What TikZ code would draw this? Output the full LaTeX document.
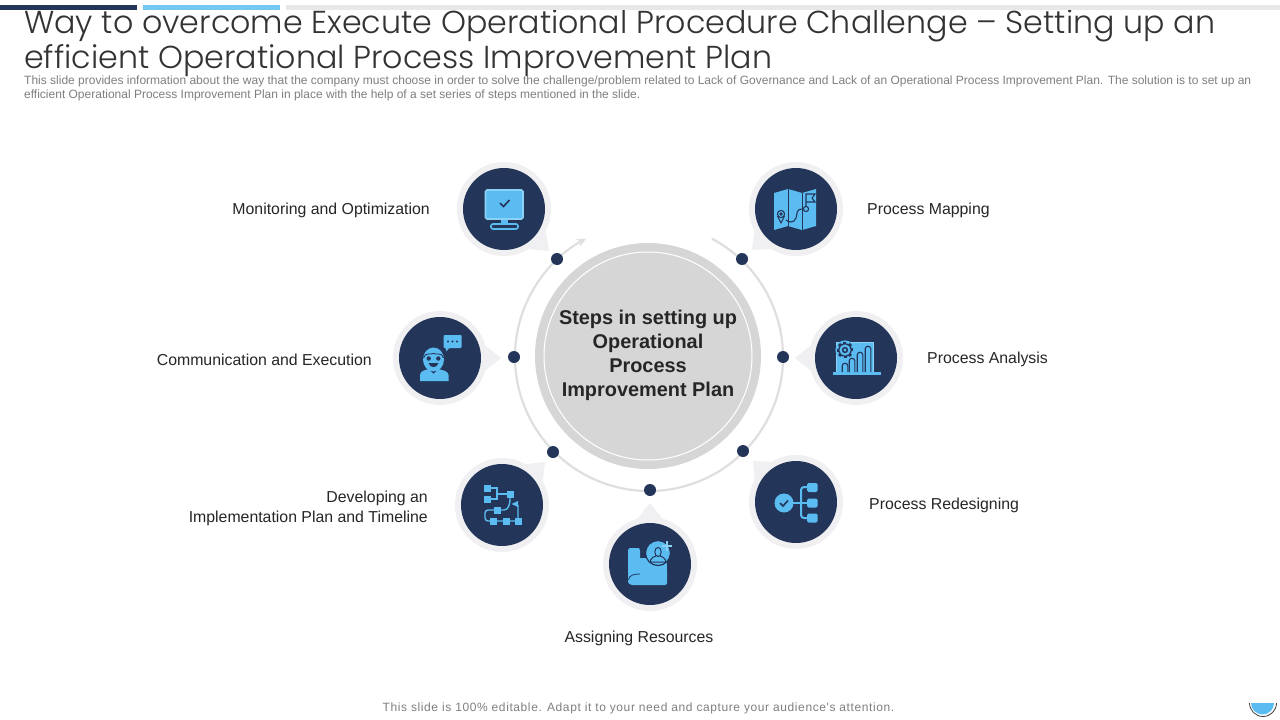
\documentclass[tikz,border=0pt]{standalone}
\usepackage{fontspec}
\setmainfont{Liberation Sans}
\newfontfamily\titlefont{Poppins Light}
\newfontfamily\footfont[LetterSpace=5]{Liberation Sans}
\usetikzlibrary{calc,arrows.meta}
\definecolor{navy}{HTML}{233659}
\definecolor{sky}{HTML}{5BBCF2}
\definecolor{halo}{HTML}{F0F0F2}
\definecolor{ringgray}{HTML}{DFDFDF}
\definecolor{hubgray}{HTML}{D6D6D6}
\definecolor{txt}{HTML}{262626}
\definecolor{subt}{HTML}{7F7F7F}
\definecolor{ttl}{HTML}{333333}
\tikzset{
  halonode/.style={circle,fill=halo,minimum size=94pt,inner sep=0pt},
  disc/.style={circle,fill=navy,minimum size=82pt,inner sep=0pt},
  dotnode/.style={circle,fill=navy,minimum size=12pt,inner sep=0pt},
  lab/.style={font=\fontsize{15.85}{19.5}\selectfont,text=txt,inner sep=0pt},
  ttlline/.style={font=\titlefont\fontsize{31.7}{35}\selectfont,text=ttl,anchor=base west,inner sep=0pt},
  subline/.style={font=\fontsize{12}{12}\selectfont,text=subt,anchor=base west,inner sep=0pt},
  icl/.style={draw=sky,line width=1.4pt,fill=none},
  icd/.style={draw=navy,line width=1.1pt,fill=none},
}
% name, x, y, tip x, tip y
\newcommand{\bubble}[5]{%
  \coordinate (#1tip) at (#4,-#5);
  \node[halonode] (#1halo) at (#2,-#3) {};
  \fill[halo] ($(#1halo)!46pt!17:(#1tip)$) -- (#1tip) -- ($(#1halo)!46pt!-17:(#1tip)$) -- cycle;
  \node[disc] (#1) at (#2,-#3) {};
}
\begin{document}
\begin{tikzpicture}[x=1pt,y=1pt]
\useasboundingbox (0,-720) rectangle (1280,0);
\fill[white] (0,-720) rectangle (1280,0);

% title
\node[ttlline] (t1) at (24,-33) {Way to overcome Execute Operational Procedure Challenge – Setting up an};
\node[ttlline] (t2) at (24,-68) {efficient Operational Process Improvement Plan};
\node[subline] (s1) at (24,-84) {This slide provides information about the way that the company must choose in order to solve the challenge/problem related to Lack of Governance and Lack of an Operational Process Improvement Plan. The solution is to set up an};
\node[subline] (s2) at (24,-98) {efficient Operational Process Improvement Plan in place with the help of a set series of steps mentioned in the slide.};
% top bars
\fill[navy] (0,-5) rectangle (137,-10);
\fill[sky!85!white] (143,-5) rectangle (280,-10);
\fill[black!9] (286,-5) rectangle (1280,-10);

% ring
\draw[ringgray,line width=2.2pt,-{Stealth[length=9pt,width=8pt]}] (649,-357) ++(62:134) arc (62:-242:134);

% hub
\node[circle,fill=hubgray,minimum size=226pt,inner sep=0pt] (hub) at (648,-356) {};
\node[circle,draw=white,line width=1pt,fill=hubgray,minimum size=208pt,inner sep=0pt] (hubin) at (648,-356) {};
\node[font=\bfseries\fontsize{19.9}{24}\selectfont,text=txt,align=center,inner sep=0pt] (hubt) at (648,-355.5) {Steps in setting up\\Operational\\Process\\Improvement Plan};

% dots
\node[dotnode] (d1) at (742,-259) {};
\node[dotnode] (d2) at (783,-357) {};
\node[dotnode] (d3) at (743,-451) {};
\node[dotnode] (d4) at (650,-490) {};
\node[dotnode] (d5) at (553,-452) {};
\node[dotnode] (d6) at (514,-357) {};
\node[dotnode] (d7) at (557,-259) {};

% bubbles
\bubble{mon}{504}{209}{549}{251}
\bubble{map}{796}{209}{752}{250}
\bubble{com}{440}{358}{501}{358}
\bubble{ana}{856}{358}{795}{358}
\bubble{dev}{502}{505}{545}{462}
\bubble{red}{796}{502}{753}{461}
\bubble{ass}{650}{564}{650}{503}

% monitor icon
\filldraw[fill=sky,draw=sky!70!white,line width=1.6pt,rounded corners=1.5pt] (485.5,-190) rectangle (523,-219);
\fill[sky] (501,-220) rectangle (508,-224);
\draw[sky,line width=1.6pt,rounded corners=2pt] (491,-224) rectangle (518,-229);
\draw[navy,line width=1.6pt] (500,-203) -- (503.5,-206.5) -- (509.5,-200);

% map icon
\fill[sky] (774,-193) -- (788,-189) -- (802,-193) -- (816,-189) -- (816,-226) -- (802,-230) -- (788,-226) -- (774,-230) -- cycle;
\draw[icd,line width=.8pt] (788,-189) -- (788,-226) (802,-193) -- (802,-230);
\draw[icd] (806,-206.4) -- (806,-194) -- (815,-194) -- (812,-198) -- (815,-202) -- (806,-202);
\draw[icd] (806,-209) circle (2.6);
\draw[icd] (803.4,-209) .. controls (795,-209) and (798,-213) .. (796,-218) .. controls (794,-224) and (788,-222) .. (786,-220);
\draw[icd] (781,-214) circle (3.6);
\draw[icd] (781,-214) circle (1.2);
\draw[icd] (777.5,-216) -- (781,-223) -- (784.5,-216);

% communication icon
\fill[sky] (420,-381) -- (420,-375) .. controls (420,-371) and (425,-370) .. (429,-369) -- (433.5,-373) -- (438,-369) .. controls (442,-370) and (448.5,-371) .. (448.5,-375) -- (448.5,-381) -- cycle;
\fill[navy] (433.5,-369) -- (430,-367.5) -- (429.5,-370) -- (433.5,-373.5) -- (437.5,-370) -- (437,-367.5) -- cycle;
\fill[sky] (433.5,-359.5) circle (10.5 and 12);
\draw[navy,line width=.9pt] (423.5,-358) .. controls (425,-352) and (430,-355) .. (433.5,-353.5) .. controls (437,-355) and (442,-352) .. (443.5,-358);
\fill[navy] (428.7,-358.5) circle (2.2);
\fill[navy] (438.3,-358.5) circle (2.2);
\fill[navy] (428.5,-363) .. controls (430,-368.5) and (437,-368.5) .. (438.5,-363) -- cycle;
\fill[sky,rounded corners=1pt] (443.5,-335) -- (461.5,-335) -- (461.5,-348) -- (449,-348) -- (446,-352) -- (446,-348) -- (443.5,-348) -- cycle;
\fill[navy] (448,-341.5) circle (1.1);
\fill[navy] (452.5,-341.5) circle (1.1);
\fill[navy] (457,-341.5) circle (1.1);

% analysis icon
\fill[sky] (836,-342) rectangle (873,-372);
\draw[sky!70!white,line width=1pt] (836,-342) rectangle (873,-372);
\fill[sky] (833,-372) rectangle (881,-374.5);
\foreach \bx/\bt in {845/-366,852/-361,860/-355,868/-349}{
  \draw[navy,line width=1.1pt,fill=sky] (\bx-2.8,-372) -- (\bx-2.8,\bt) arc (180:0:2.8) -- (\bx+2.8,-372);
}
\fill[sky] (845,-350) circle (9.6);
\foreach \a in {0,45,...,315}{\fill[navy] (845,-350) ++(\a-14:6) -- ++(\a:2.5) -- ++(\a+90:3) -- ++(\a+180:2.5) -- cycle;}
\fill[navy] (845,-350) circle (6.8);
\fill[sky] (845,-350) circle (5.6);
\fill[navy] (845,-350) circle (3.2);
\fill[sky] (845,-350) circle (1.6);

% developing icon
\draw[icl] (487,-488) -- (497,-488) -- (497,-494) -- (510,-494) (487,-499) -- (497,-499) -- (497,-494);
\draw[icl,rounded corners=3pt] (510,-494) -- (510,-503) -- (507,-510) -- (485,-510) -- (485,-521) -- (493,-521) (493,-521) -- (518,-521) -- (518,-505);
\fill[sky] (484,-485) rectangle (491,-492);
\fill[sky] (484,-496) rectangle (491,-503);
\fill[sky] (506.5,-490.5) rectangle (513.5,-497.5);
\fill[sky] (493.5,-506.5) rectangle (500.5,-513.5);
\fill[sky] (489.5,-517.5) rectangle (496.5,-524.5);
\fill[sky] (502.5,-517.5) rectangle (509.5,-524.5);
\fill[sky] (514.5,-517.5) rectangle (521.5,-524.5);
\fill[sky] (518,-501) -- (518,-507) -- (511.5,-504) -- cycle;

% redesign icon
\fill[sky] (784,-503) circle (9.5);
\draw[navy,line width=1.6pt] (780,-503) -- (783,-506) -- (788,-500.5);
\draw[sky,line width=2pt] (793,-503) -- (808,-503);
\draw[sky,line width=2pt,rounded corners=3pt] (808,-487) -- (801,-487) -- (801,-518) -- (808,-518);
\fill[sky,rounded corners=1.5pt] (807,-483) rectangle (817.5,-492);
\fill[sky,rounded corners=1.5pt] (807,-498.5) rectangle (817.5,-507.5);
\fill[sky,rounded corners=1.5pt] (807,-513.5) rectangle (817.5,-522.5);

% assigning icon
\fill[sky,rounded corners=2pt] (628,-580) -- (628,-552) .. controls (628,-549) and (630,-548) .. (632,-548) -- (637,-548) .. controls (639,-548) and (640,-550) .. (640,-553) -- (640,-568) -- (667,-568) -- (667,-585) -- (634,-585) .. controls (630,-585) and (628,-583) .. (628,-580) -- cycle;
\fill[sky] (640,-558) rectangle (667,-570);
\draw[navy,line width=.8pt] (640,-574) .. controls (634,-574) and (629,-575) .. (628.5,-580);
\filldraw[fill=sky,draw=navy,line width=1.2pt] (658,-553) circle (12.5);
\draw[navy,line width=1pt] (658,-552) ellipse (3.2 and 4.6);
\draw[navy,line width=1pt] (650.5,-562) -- (650.5,-560) .. controls (651,-557.5) and (654,-557) .. (656,-556) (665.5,-562) -- (665.5,-560) .. controls (665,-557.5) and (662,-557) .. (660,-556) (650.5,-562) -- (665.5,-562);
\draw[sky!70!white,line width=1.8pt] (667,-541) -- (667,-551) (662,-546) -- (672,-546);

% labels
\node[lab,anchor=east] (lmon) at (430,-210) {Monitoring and Optimization};
\node[lab,anchor=east] (lcom) at (372,-359.5) {Communication and Execution};
\node[lab,anchor=east,align=right] (ldev) at (428,-508.5) {Developing an\\Implementation  Plan and Timeline};
\node[lab,anchor=west] (lmap) at (867,-210) {Process Mapping};
\node[lab,anchor=west] (lana) at (927,-359.5) {Process Analysis};
\node[lab,anchor=west] (lred) at (869,-505.5) {Process Redesigning};
\node[lab,anchor=center] (lass) at (639,-638) {Assigning Resources};
\node[font=\footfont\fontsize{12}{12}\selectfont,text=subt,inner sep=0pt] (foot) at (638.5,-708) {This slide is 100\% editable. Adapt it to your need and capture your audience's attention.};

% corner mark
\fill[sky] (1251,-703) arc (180:360:11.5) -- cycle;
\draw[black!75,line width=.8pt] (1249.5,-703) arc (180:360:13.5);
\end{tikzpicture}
\end{document}
